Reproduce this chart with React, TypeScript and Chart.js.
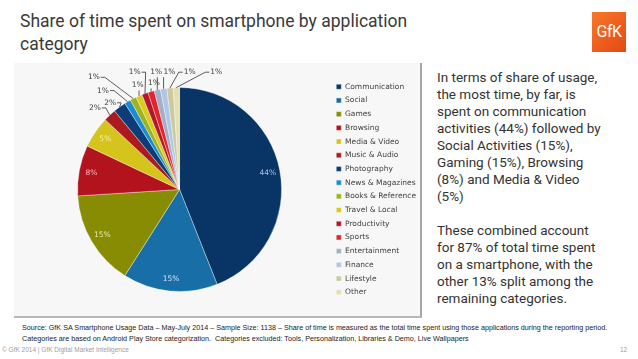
import React, { useEffect, useRef } from "react";
import { Chart, registerables } from "chart.js";

Chart.register(...registerables);

// ---------- data ----------
const categories = [
  "Communication",
  "Social",
  "Games",
  "Browsing",
  "Media & Video",
  "Music & Audio",
  "Photography",
  "News & Magazines",
  "Books & Reference",
  "Travel & Local",
  "Productivity",
  "Sports",
  "Entertainment",
  "Finance",
  "Lifestyle",
  "Other",
];
const shares = [44, 15, 15, 8, 5, 2, 2, 1, 1, 1, 1, 1, 1, 1, 1, 1];

// ---------- styles ----------
const sliceColors = [
  "#083566",
  "#186ea6",
  "#878c02",
  "#b3131d",
  "#d5c41c",
  "#ad1a1e",
  "#0d3d78",
  "#1b8dcf",
  "#a0b21e",
  "#d7cc1f",
  "#b4162a",
  "#e2252a",
  "#a3afc8",
  "#afc6e4",
  "#cbca9e",
  "#e3dfb2",
];
const insideLabelColors: Record<number, string> = {
  0: "#a9c4e4",
  1: "#cfe4f3",
  2: "#e9e9b4",
  3: "#f5b9bc",
  4: "#f7efaa",
};
const insideRadius = 0.88;
const outsidePlacement: Record<number, [number, number]> = {
  5: [-0.83, -0.8],
  6: [-0.68, -0.85],
  7: [-0.75, -0.97],
  8: [-0.84, -1.1],
  9: [-0.41, -1.02],
  10: [-0.44, -1.15],
  11: [-0.25, -1.04],
  12: [-0.23, -1.15],
  13: [-0.1, -1.15],
  14: [0.1, -1.15],
  15: [0.36, -1.15],
};

const sliceLabelPlugin = {
  id: "sliceLabels",
  afterDatasetsDraw(chart: any) {
    const ctx = chart.ctx as CanvasRenderingContext2D;
    const meta = chart.getDatasetMeta(0);
    ctx.save();
    ctx.font = '7.5px "DejaVu Sans"';
    ctx.textAlign = "center";
    ctx.textBaseline = "middle";
    meta.data.forEach((arc: any, i: number) => {
      const p = arc.getProps(["x", "y", "startAngle", "endAngle", "outerRadius"], true);
      const mid = (p.startAngle + p.endAngle) / 2;
      const text = shares[i] + "%";
      if (insideLabelColors[i] !== undefined) {
        const d = p.outerRadius * insideRadius;
        ctx.fillStyle = insideLabelColors[i];
        ctx.fillText(text, p.x + Math.cos(mid) * d, p.y + Math.sin(mid) * d);
        return;
      }
      const off = outsidePlacement[i];
      if (!off) return;
      const lx = p.x + off[0] * p.outerRadius;
      const ly = p.y + off[1] * p.outerRadius;
      const ex = p.x + Math.cos(mid) * p.outerRadius;
      const ey = p.y + Math.sin(mid) * p.outerRadius;
      const hw = ctx.measureText(text).width / 2;
      ctx.strokeStyle = "#333333";
      ctx.lineWidth = 0.8;
      ctx.beginPath();
      if (ex > lx + hw + 2) {
        ctx.moveTo(lx + hw + 1, ly);
        ctx.lineTo(lx + hw + 5, ly);
        ctx.lineTo(ex, ey);
      } else if (ex < lx - hw - 2) {
        ctx.moveTo(lx - hw - 1, ly);
        ctx.lineTo(lx - hw - 5, ly);
        ctx.lineTo(ex, ey);
      } else {
        ctx.moveTo(ex, ly + 5);
        ctx.lineTo(ex, ey);
      }
      ctx.stroke();
      ctx.fillStyle = "#404040";
      ctx.fillText(text, lx, ly);
    });
    ctx.restore();
  },
};

function PieChart() {
  const ref = useRef<HTMLCanvasElement | null>(null);
  useEffect(() => {
    if (!ref.current) return;
    const chart = new Chart(ref.current, {
      type: "pie",
      data: {
        labels: categories,
        datasets: [
          {
            data: shares,
            backgroundColor: sliceColors,
            borderColor: "rgba(255,255,255,0.6)",
            borderWidth: 0.6,
            radius: 102,
          },
        ],
      },
      options: {
        animation: false,
        responsive: false,
        devicePixelRatio: 1,
        layout: { padding: { top: 0, bottom: 0, left: 15, right: 0 } },
        plugins: {
          tooltip: { enabled: false },
          legend: {
            position: "right",
            labels: {
              boxWidth: 5,
              boxHeight: 5,
              padding: 6.2,
              color: "#404040",
              font: { size: 7.5, family: '"DejaVu Sans"' },
            },
          },
        },
      },
      plugins: [sliceLabelPlugin],
    });
    return () => chart.destroy();
  }, []);
  return <canvas ref={ref} width={412} height={253} style={{ position: "absolute", left: 14, top: 63 }} />;
}

export default function App() {
  return (
    <div style={{ position: "absolute", left: 0, top: 0, width: 638, height: 359, background: "#ffffff", overflow: "hidden" }}>
      <div
        style={{
          position: "absolute",
          left: 20,
          top: 10,
          fontFamily: "Roboto",
          fontSize: 17.5,
          lineHeight: "23px",
          color: "#3a3a3a",
        }}
      >
        Share of time spent on smartphone by application
        <br />
        category
      </div>
      <div
        style={{
          position: "absolute",
          left: 592,
          top: 12,
          width: 34,
          height: 40,
          background: "linear-gradient(135deg, #f47a2a 0%, #ee5a1c 60%, #e24a16 100%)",
          color: "#ffffff",
          fontFamily: "Roboto",
          fontSize: 16,
          lineHeight: "40px",
          textAlign: "center",
          letterSpacing: -0.5,
        }}
      >
        GfK
      </div>
      <div
        style={{
          position: "absolute",
          left: 14,
          top: 63,
          width: 406,
          height: 253,
          background: "#f7f7f7",
          borderRight: "2px solid #a8a8a8",
          borderBottom: "2px solid #b8b8b8",
        }}
      />
      <PieChart />
      <div
        style={{
          position: "absolute",
          left: 437,
          top: 69,
          fontFamily: "Roboto",
          fontSize: 13.5,
          lineHeight: "17px",
          color: "#333333",
          whiteSpace: "nowrap",
        }}
      >
        In terms of share of usage,
        <br />
        the most time, by far, is
        <br />
        spent on communication
        <br />
        activities (44%) followed by
        <br />
        Social Activities (15%),
        <br />
        Gaming (15%), Browsing
        <br />
        (8%) and Media &amp; Video
        <br />
        (5%)
        <br />
        <br />
        These combined account
        <br />
        for 87% of total time spent
        <br />
        on a smartphone, with the
        <br />
        other 13% split among the
        <br />
        remaining categories.
      </div>
      <div
        style={{
          position: "absolute",
          left: 22,
          top: 322,
          fontFamily: '"Liberation Sans"',
          fontSize: 7.2,
          lineHeight: "11px",
          color: "#222222",
          whiteSpace: "nowrap",
        }}
      >
        Source: GfK SA Smartphone Usage Data – May-July 2014 – Sample Size: 1138 – Share of time is measured as the total time spent using those applications during the reporting period.
        <br />
        Categories are based on Android Play Store categorization.&nbsp; Categories excluded: Tools, Personalization, Libraries &amp; Demo, Live Wallpapers
      </div>
      <div
        style={{
          position: "absolute",
          left: 2,
          top: 346,
          fontFamily: '"Liberation Sans"',
          fontSize: 6.5,
          color: "#a0a0a0",
          whiteSpace: "nowrap",
        }}
      >
        © GfK 2014 | GfK Digital Market Intelligence
      </div>
      <div
        style={{
          position: "absolute",
          left: 620,
          top: 346,
          fontFamily: '"Liberation Sans"',
          fontSize: 6.5,
          color: "#a0a0a0",
        }}
      >
        12
      </div>
    </div>
  );
}
